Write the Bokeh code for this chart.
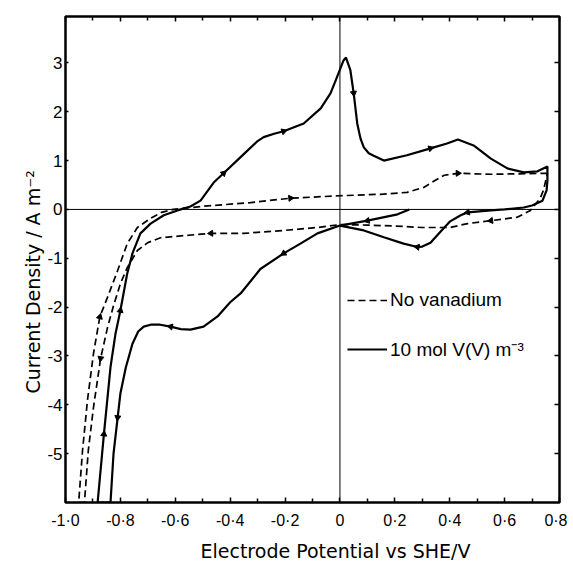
import math
from bokeh.plotting import figure
from bokeh.models import (FixedTicker, Span, Legend, LegendItem, Title,
                          LinearAxis, Range1d, ColumnDataSource)
from bokeh.embed import file_html
from bokeh.resources import INLINE

# ---- data ----
# 10 mol V(V) m^-3  (solid)
v_x = [0.253, 0.21, 0.10, 0.0, -0.082, -0.144, -0.205, -0.29, -0.362, -0.40,
       -0.446, -0.497, -0.545, -0.58, -0.617, -0.655, -0.69, -0.715, -0.735,
       -0.756, -0.78, -0.80, -0.81, -0.825, -0.836,
       -0.883, -0.86, -0.836, -0.818, -0.80, -0.775, -0.756, -0.727, -0.69,
       -0.642, -0.592, -0.545, -0.508, -0.46, -0.424, -0.362, -0.30, -0.278,
       -0.24, -0.205, -0.132, -0.07, -0.034, -0.005, 0.013, 0.022, 0.038,
       0.05, 0.063, 0.075, 0.087, 0.105, 0.123, 0.16, 0.244, 0.33, 0.39,
       0.43, 0.487, 0.55, 0.61, 0.67, 0.72, 0.756, 0.756, 0.753, 0.738,
       0.70, 0.67, 0.60, 0.55, 0.465, 0.44, 0.40, 0.367, 0.33, 0.30, 0.282,
       0.232, 0.16, 0.087, 0.0, -0.082]
v_y = [0.0, -0.10, -0.23, -0.33, -0.49, -0.70, -0.90, -1.22, -1.72, -1.90,
       -2.19, -2.40, -2.46, -2.45, -2.40, -2.36, -2.36, -2.40, -2.50,
       -2.75, -3.23, -3.77, -4.26, -5.0, -6.0,
       -6.0, -4.6, -3.23, -2.55, -2.07, -1.31, -0.90, -0.49, -0.29,
       -0.12, -0.02, 0.06, 0.18, 0.55, 0.74, 1.07, 1.40, 1.48,
       1.55, 1.60, 1.76, 2.07, 2.38, 2.79, 3.05, 3.11, 2.85,
       2.38, 1.76, 1.45, 1.27, 1.15, 1.10, 1.00, 1.11, 1.25, 1.35,
       1.43, 1.31, 1.04, 0.84, 0.76, 0.78, 0.88, 0.59, 0.39, 0.18,
       0.08, 0.04, 0.0, -0.02, -0.06, -0.12, -0.25, -0.45, -0.68, -0.76, -0.77,
       -0.70, -0.57, -0.43, -0.33, -0.49]
v_arrows = [2, 6, 14, 22, 26, 29, 39, 44, 52, 60, 76, 82]

# No vanadium (dashed)
n_x = [0.756, 0.55, 0.43, 0.38, 0.34, 0.305, 0.245, 0.148, 0.0, -0.18,
       -0.326, -0.508, -0.607, -0.65, -0.69, -0.738, -0.775, -0.81, -0.847,
       -0.875, -0.898, -0.92, -0.938, -0.952,
       -0.931, -0.917, -0.898, -0.872, -0.847, -0.825, -0.80, -0.775, -0.738,
       -0.70, -0.654, -0.556, -0.47, -0.35, -0.205, -0.082, 0.0, 0.1, 0.2,
       0.3, 0.40, 0.465, 0.55, 0.646, 0.694, 0.73, 0.742, 0.756]
n_y = [0.74, 0.72, 0.74, 0.70, 0.57, 0.45, 0.35, 0.31, 0.28, 0.23,
       0.14, 0.06, 0.0, -0.06, -0.18, -0.37, -0.70, -1.25, -1.80,
       -2.20, -2.95, -3.91, -4.94, -6.0,
       -6.0, -4.94, -4.05, -3.05, -2.42, -1.97, -1.52, -1.19, -0.84,
       -0.68, -0.58, -0.53, -0.49, -0.49, -0.43, -0.37, -0.31, -0.32, -0.34,
       -0.37, -0.37, -0.29, -0.23, -0.16, -0.02, 0.23, 0.40, 0.74]
n_arrows = [2, 9, 19, 27, 36, 46]

x_ticks = [-1.0, -0.8, -0.6, -0.4, -0.2, 0.0, 0.2, 0.4, 0.6, 0.8]
x_tick_labels = ["-1·0", "-0·8", "-0·6", "-0·4", "-0·2", "0", "0·2", "0·4", "0·6", "0·8"]
x_minor = [-0.9, -0.7, -0.5, -0.3, -0.1, 0.1, 0.3, 0.5, 0.7]
y_ticks = [-5, -4, -3, -2, -1, 0, 1, 2, 3]
y_tick_labels = ["-5", "-4", "-3", "-2", "-1", "0", "1", "2", "3"]

FONT = "Liberation Sans"
TFONT = "DejaVu Sans"
FW, FH = 494, 486
XR, YR = (-1.0, 0.8), (-6.0, 3.95)

p = figure(frame_width=FW, frame_height=FH,
           x_range=Range1d(*XR), y_range=Range1d(*YR),
           output_backend="svg", toolbar_location=None,
           min_border_left=65, min_border_right=8, min_border_top=16,
           min_border_bottom=62, x_axis_location=None, y_axis_location=None)
p.grid.visible = False
p.outline_line_color = "black"
p.outline_line_width = 2.5
p.background_fill_color = "white"
p.border_fill_color = "white"

xt = FixedTicker(ticks=x_ticks, minor_ticks=x_minor)
yt = FixedTicker(ticks=y_ticks, minor_ticks=[])

def style(ax, labels):
    ax.axis_line_color = None
    ax.major_tick_in = 5
    ax.major_tick_out = 0
    ax.minor_tick_in = 4
    ax.minor_tick_out = 0
    ax.major_tick_line_width = 1.5
    ax.minor_tick_line_width = 1.5
    ax.major_tick_line_color = "black"
    ax.minor_tick_line_color = "black"
    ax.major_label_text_color = "black"
    if not labels:
        ax.major_label_text_color = None
        ax.major_label_text_font_size = "1px"
        ax.major_label_standoff = 0

bottom = LinearAxis(ticker=xt, major_label_overrides={t: s for t, s in zip(x_ticks, x_tick_labels)})
style(bottom, True)
bottom.major_label_text_font = FONT
bottom.major_label_text_font_size = "16px"
bottom.major_label_standoff = 9
p.add_layout(bottom, "below")

top = LinearAxis(ticker=xt)
style(top, False)
p.add_layout(top, "above")

left = LinearAxis(ticker=yt, major_label_overrides={t: s for t, s in zip(y_ticks, y_tick_labels)})
style(left, True)
left.major_tick_in = 3
left.major_label_text_font = FONT
left.major_label_text_font_size = "17px"
left.major_label_standoff = 3
p.add_layout(left, "left")

right = LinearAxis(ticker=yt)
style(right, False)
p.add_layout(right, "right")

p.add_layout(Span(location=0, dimension="height", line_color="black", line_width=1))
p.add_layout(Span(location=0, dimension="width", line_color="black", line_width=1))

r_dash = p.line(n_x, n_y, line_color="black", line_width=1.7, line_dash="7 4")
r_solid = p.line(v_x, v_y, line_color="black", line_width=2.2)

# small arrowheads along the curves (direction from neighbouring points, in screen space)
sx = FW / (XR[1] - XR[0])
sy = FH / (YR[1] - YR[0])

def arrow_src(xs, ys, idx, sign):
    ax_, ay_, ang = [], [], []
    for i in idx:
        dx = (xs[i + 1] - xs[i - 1]) * sx * sign
        dy = (ys[i + 1] - ys[i - 1]) * sy * sign
        ax_.append(xs[i]); ay_.append(ys[i])
        ang.append(math.atan2(dy, dx) - math.pi / 2)
    return ColumnDataSource(dict(x=ax_, y=ay_, a=ang))

p.scatter("x", "y", angle="a", source=arrow_src(v_x, v_y, v_arrows, 1),
          marker="triangle", size=6, color="black")
p.scatter("x", "y", angle="a", source=arrow_src(n_x, n_y, n_arrows, -1),
          marker="triangle", size=6, color="black")

legend = Legend(items=[LegendItem(label="No vanadium", renderers=[r_dash]),
                       LegendItem(label="10 mol V(V) m⁻³", renderers=[r_solid])],
                location=(282, 140), glyph_width=40, glyph_height=20,
                label_height=20, spacing=25, label_standoff=3, padding=0,
                margin=0, border_line_alpha=0, background_fill_alpha=0,
                label_text_font=FONT, label_text_font_size="19px",
                label_text_color="black")
p.add_layout(legend)

p.add_layout(Title(text="Electrode Potential vs SHE/V", align="left", offset=135,
                   text_font=TFONT, text_font_size="19px", text_font_style="normal",
                   text_color="black", standoff=13), "below")
p.add_layout(Title(text="Current Density / A m⁻²", align="left", offset=109,
                   text_font=TFONT, text_font_size="19px", text_font_style="normal",
                   text_color="black", standoff=1), "left")

open("out.html", "w").write(file_html(p, INLINE))
